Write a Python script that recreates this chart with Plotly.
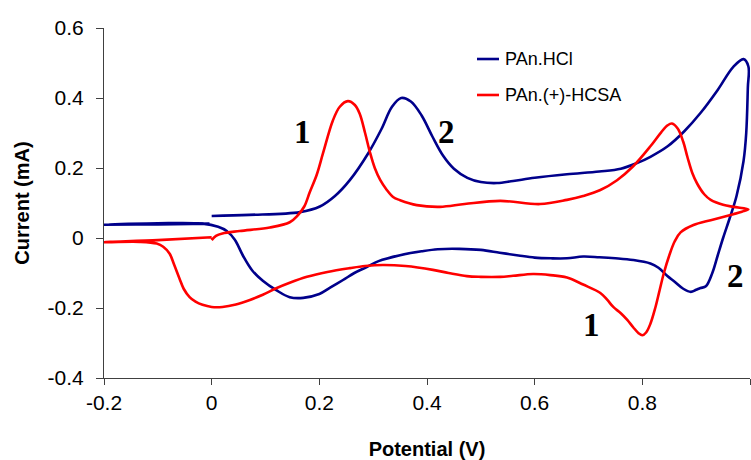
import plotly.graph_objects as go

# ---------------- data ----------------
series_names = ["PAn.HCl", "PAn.(+)-HCSA"]
series_colors = ["#00008B", "#FF0000"]

# PAn.HCl : forward scan (0 -> 1 V), reverse scan (1 -> -0.2 V), return to 0 V
hcl_potential = [
    0.0, 0.07, 0.164, 0.201, 0.229, 0.257, 0.29, 0.315, 0.335, 0.352, 0.37, 0.39,
    0.41, 0.43, 0.45, 0.475, 0.5, 0.53, 0.56, 0.6, 0.66, 0.72, 0.76, 0.79, 0.815,
    0.847, 0.878, 0.908, 0.94, 0.969, 0.988, 0.997,
    0.996, 0.993, 0.988, 0.975, 0.963, 0.95, 0.94, 0.93, 0.918, 0.908, 0.9, 0.89,
    0.876, 0.86, 0.846, 0.83, 0.815, 0.783, 0.75, 0.72, 0.69, 0.66, 0.63, 0.6, 0.57,
    0.535, 0.5, 0.46, 0.42, 0.39, 0.35, 0.31, 0.288, 0.265, 0.244, 0.22, 0.2, 0.17,
    0.145, 0.12, 0.095, 0.075, 0.058, 0.043, 0.028, 0.012, -0.017, -0.1, -0.2,
    -0.1, -0.004,
]
hcl_current = [
    0.063, 0.066, 0.074, 0.09, 0.12, 0.166, 0.24, 0.31, 0.375, 0.40, 0.39, 0.35,
    0.29, 0.235, 0.198, 0.172, 0.16, 0.157, 0.163, 0.172, 0.182, 0.19, 0.198, 0.214,
    0.232, 0.262, 0.305, 0.357, 0.423, 0.489, 0.511, 0.49,
    0.43, 0.3, 0.22, 0.12, 0.06, 0.0, -0.05, -0.1, -0.138, -0.143, -0.148, -0.154,
    -0.145, -0.125, -0.108, -0.085, -0.073, -0.063, -0.058, -0.055, -0.053, -0.058,
    -0.058, -0.056, -0.05, -0.042, -0.034, -0.031, -0.032, -0.038, -0.049, -0.066,
    -0.083, -0.1, -0.12, -0.142, -0.16, -0.171, -0.169, -0.149, -0.122, -0.092,
    -0.05, -0.005, 0.02, 0.032, 0.041, 0.042, 0.038,
    0.039, 0.041,
]

# PAn.(+)-HCSA : forward scan, reverse scan, return to 0 V
hcsa_potential = [
    0.0, 0.008, 0.02, 0.052, 0.108, 0.145, 0.16, 0.172, 0.182, 0.195, 0.207, 0.225,
    0.238, 0.253, 0.266, 0.275, 0.285, 0.294, 0.303, 0.313, 0.325, 0.337, 0.35,
    0.381, 0.424, 0.47, 0.536, 0.61, 0.66, 0.69, 0.722, 0.753, 0.783, 0.815, 0.835,
    0.847, 0.855, 0.866, 0.876, 0.884, 0.893, 0.902, 0.915, 0.927, 0.95, 0.969, 0.997,
    0.985, 0.969, 0.927, 0.895, 0.871, 0.86, 0.85, 0.84, 0.832, 0.824, 0.815, 0.807,
    0.8, 0.793, 0.783, 0.772, 0.76, 0.746, 0.735, 0.722, 0.69, 0.66, 0.629, 0.597,
    0.56, 0.536, 0.5, 0.474, 0.44, 0.411, 0.36, 0.318, 0.285, 0.257, 0.215, 0.177,
    0.145, 0.121, 0.095, 0.071, 0.045, 0.02, 0.0, -0.017, -0.03, -0.041, -0.052,
    -0.06, -0.07, -0.078, -0.09, -0.102, -0.134, -0.2,
    -0.1, 0.0,
]
hcsa_current = [
    -0.006, 0.006, 0.013, 0.02, 0.03, 0.045, 0.065, 0.09, 0.13, 0.18, 0.243, 0.335,
    0.375, 0.391, 0.38, 0.355, 0.3, 0.245, 0.2, 0.166, 0.138, 0.117, 0.108,
    0.094, 0.089, 0.097, 0.106, 0.097, 0.109, 0.12, 0.137, 0.165, 0.205, 0.262, 0.302,
    0.322, 0.327, 0.312, 0.275, 0.23, 0.185, 0.155, 0.125, 0.109, 0.095, 0.089, 0.082,
    0.075, 0.068, 0.051, 0.037, 0.016, -0.01, -0.05, -0.1, -0.15, -0.2, -0.245, -0.27,
    -0.278, -0.272, -0.255, -0.234, -0.215, -0.197, -0.177, -0.157, -0.133, -0.113,
    -0.106, -0.103, -0.108, -0.111, -0.111, -0.109, -0.1, -0.091, -0.08, -0.077,
    -0.08, -0.086, -0.097, -0.111, -0.128, -0.143, -0.162, -0.177, -0.19, -0.197,
    -0.197, -0.191, -0.182, -0.169, -0.145, -0.115, -0.075, -0.045, -0.025, -0.016,
    -0.011, -0.012,
    -0.006, 0.002,
]

# peak labels: text, potential, current
peak_labels = ["1", "2", "1", "2"]
peak_label_x = [0.169, 0.437, 0.705, 0.973]
peak_label_y = [0.304, 0.304, -0.248, -0.108]

x_tick_vals = [-0.2, 0, 0.2, 0.4, 0.6, 0.8, 1.0]
x_tick_text = ["-0.2", "0", "0.2", "0.4", "0.6", "0.8", "1"]
y_tick_vals = [-0.4, -0.2, 0, 0.2, 0.4, 0.6]
y_tick_text = ["-0.4", "-0.2", "0", "0.2", "0.4", "0.6"]

x_title = "Potential (V)"
y_title = "Current (mA)"

# ---------------- figure ----------------
fig = go.Figure()
for name, color, xs, ys in [
    (series_names[0], series_colors[0], hcl_potential, hcl_current),
    (series_names[1], series_colors[1], hcsa_potential, hcsa_current),
]:
    fig.add_trace(go.Scatter(
        x=xs, y=ys, mode="lines", name=name,
        line=dict(color=color, width=2.6, shape="spline", smoothing=1.0),
        showlegend=False, cliponaxis=False,
    ))

axis_color = "#404040"
font_sans = "Liberation Sans, Arial, sans-serif"

fig.update_layout(
    width=751, height=460,
    margin=dict(l=104, r=1, t=28, b=82, autoexpand=False),
    paper_bgcolor="white", plot_bgcolor="white",
    font=dict(family=font_sans, color="black"),
    xaxis=dict(
        range=[-0.2, 1.0], showgrid=False, zeroline=False,
        showline=True, linecolor=axis_color, linewidth=1,
        ticks="outside", ticklen=6, tickcolor=axis_color, tickwidth=1,
        tickvals=x_tick_vals, ticktext=x_tick_text,
        tickfont=dict(size=21, family=font_sans, color="black"),
        ticklabelstandoff=0,
        title=dict(text="<b>" + x_title + "</b>", font=dict(size=20, family=font_sans),
                   standoff=30),
    ),
    yaxis=dict(
        range=[-0.4, 0.6], showgrid=False, zeroline=False,
        showline=True, linecolor=axis_color, linewidth=1,
        ticks="outside", ticklen=7, tickcolor=axis_color, tickwidth=1,
        tickvals=y_tick_vals, ticktext=y_tick_text,
        tickfont=dict(size=21, family=font_sans, color="black"),
        ticklabelstandoff=8,
        title=dict(text="<b>" + y_title + "</b>", font=dict(size=20, family=font_sans),
                   standoff=12),
    ),
)

# manual legend (short line samples like the reference)
legend_y = [0.9114, 0.8086]
for name, color, ly in zip(series_names, series_colors, legend_y):
    fig.add_shape(type="line", xref="paper", yref="paper",
                  x0=0.5774, x1=0.6115, y0=ly, y1=ly,
                  line=dict(color=color, width=2.6))
    fig.add_annotation(xref="paper", yref="paper", x=0.6176, y=ly,
                       xanchor="left", yanchor="middle", showarrow=False,
                       text=name, font=dict(size=18, family=font_sans, color="black"))

for t, px, py in zip(peak_labels, peak_label_x, peak_label_y):
    fig.add_annotation(x=px, y=py, xref="x", yref="y", text="<b>" + t + "</b>",
                       showarrow=False, xanchor="center", yanchor="middle",
                       font=dict(size=33, family="Liberation Serif, Times New Roman, serif",
                                 color="black"))

fig.write_html("out.html",
               config={"displayModeBar": False},
               post_script="document.body.style.margin='0';document.body.style.overflow='hidden';")
